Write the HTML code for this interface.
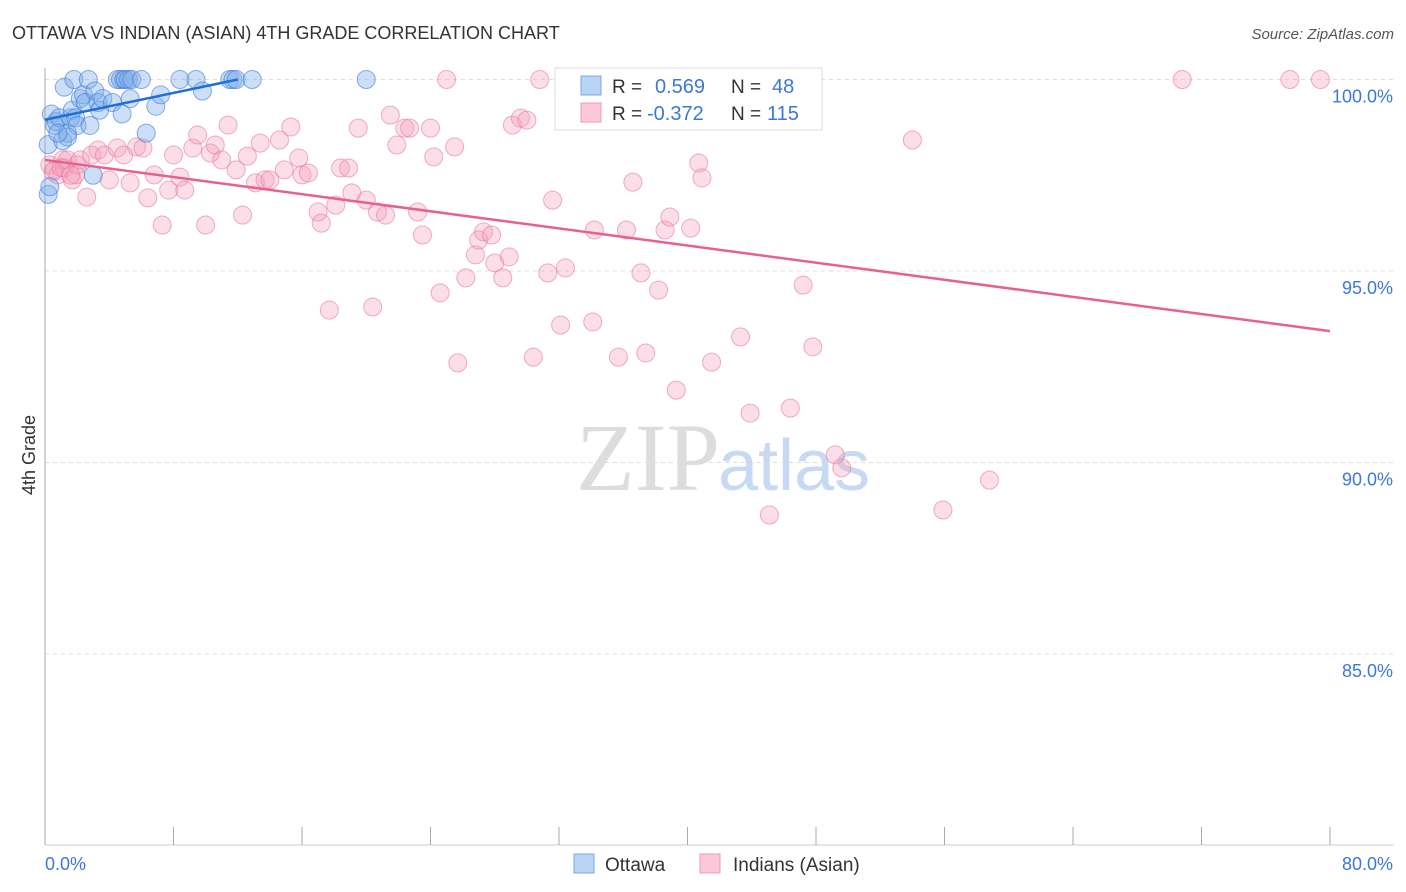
<!DOCTYPE html>
<html><head><meta charset="utf-8"><style>
body{margin:0;background:#fff;font-family:"Liberation Sans",sans-serif}
svg{display:block}
</style></head><body>
<svg width="1406" height="892">
<text x="12" y="39" font-size="18" fill="#333">OTTAWA VS INDIAN (ASIAN) 4TH GRADE CORRELATION CHART</text>
<text x="1394" y="39" font-size="15" fill="#555" font-style="italic" text-anchor="end">Source: ZipAtlas.com</text>
<text x="35" y="455" font-size="18" fill="#333" transform="rotate(-90 35 455)" text-anchor="middle">4th Grade</text>
<g id="grid"></g><g id="axes"></g>
<text x="720" y="490" font-size="96" fill="#ddd" text-anchor="end" font-family="Liberation Serif">ZIP</text>
<text x="718" y="490" font-size="72" fill="#c8daf3">atlas</text>
<g id="pink"></g><g id="blue"></g><g id="lines"></g>
<g>
<rect x="555" y="68" width="267" height="62" fill="#fff" stroke="#ddd"/>
<rect x="581" y="76" width="20" height="19" fill="#b9d4f5" stroke="#7aa8e6"/>
<rect x="581" y="103" width="20" height="19" fill="#fbc8d8" stroke="#ef9bb6"/>
<text x="612" y="93" font-size="19" fill="#333">R =</text><text x="655" y="93" font-size="20" fill="#3c78d8">0.569</text>
<text x="731" y="93" font-size="19" fill="#333">N =</text><text x="772" y="93" font-size="20" fill="#3c78d8">48</text>
<text x="612" y="120" font-size="19" fill="#333">R =</text><text x="647" y="120" font-size="20" fill="#3c78d8">-0.372</text>
<text x="731" y="120" font-size="19" fill="#333">N =</text><text x="767" y="120" font-size="20" fill="#3c78d8">115</text>
</g>
<g>
<rect x="574" y="854" width="20" height="19" fill="#b9d4f5" stroke="#7aa8e6"/>
<text x="605" y="871" font-size="19" fill="#333">Ottawa</text>
<rect x="700" y="854" width="20" height="19" fill="#fbc8d8" stroke="#ef9bb6"/>
<text x="733" y="871" font-size="19" fill="#333">Indians (Asian)</text>
</g>
</svg>
<script>
const xTicks=[0,8,16,24,32,40,48,56,64,72,80];
const yTicks=[100,95,90,85];
const yTickLabels=["100.0%","95.0%","90.0%","85.0%"];
const blueX=[0.2,0.2,0.4,0.6,0.7,0.9,1.1,1.2,1.4,1.6,1.7,1.8,1.9,2.0,2.2,2.4,2.5,2.7,2.8,3.0,3.1,3.3,3.4,3.6,4.2,4.5,4.7,4.9,5.0,5.2,5.3,5.4,6.0,6.3,6.9,7.2,8.4,9.4,9.8,11.5,11.7,11.9,12.9,20.0,4.8,1.4,0.3,0.8];
const blueY=[97.0,98.3,99.1,98.8,98.9,99.0,98.4,99.8,98.6,99.0,99.2,100,99.0,98.8,99.5,99.6,99.4,100,98.8,97.5,99.7,99.4,99.2,99.5,99.4,100,100,100,100,100,99.5,100,100,98.6,99.3,99.6,100,100,99.7,100,100,100,100,100,99.1,98.5,97.2,98.6];
const pinkX=[0.3,0.6,0.8,1.1,1.2,1.4,1.7,1.9,2.0,2.2,2.6,2.9,3.3,3.7,4.0,4.5,4.9,5.3,5.7,6.1,6.4,6.8,7.3,7.7,8.0,8.4,8.7,9.2,9.5,10.0,10.3,10.6,11.0,11.4,11.9,12.3,12.6,13.1,13.4,13.7,14.0,14.6,14.9,15.3,15.8,16.0,16.4,17.0,17.2,17.7,18.1,18.4,18.9,19.1,19.5,20.0,20.4,20.7,21.2,21.5,21.9,22.4,22.7,23.2,23.5,24.0,24.2,24.6,25.0,25.5,25.7,26.2,26.8,27.0,27.3,27.8,28.0,28.5,28.9,29.1,29.6,30.0,30.4,30.8,31.3,31.6,32.1,32.4,34.1,34.2,35.7,36.2,36.6,37.1,37.4,38.2,38.6,38.9,39.3,40.2,40.7,40.9,41.5,43.3,43.9,46.4,46.8,47.2,47.8,49.2,49.6,45.1,54.0,55.9,58.8,70.8,77.5,79.4,0.5,1.0,1.6];
const pinkY=[97.77,97.64,97.51,97.9,97.69,97.9,97.38,97.51,97.77,97.9,96.93,98.03,98.16,98.03,97.38,98.21,98.03,97.3,98.24,98.21,96.91,97.51,96.2,97.11,98.03,97.45,97.11,98.21,98.55,96.2,98.08,98.29,97.9,98.81,97.64,96.46,98.0,97.3,98.34,97.38,97.38,98.42,97.64,98.76,97.95,97.51,97.56,96.54,96.25,93.98,96.72,97.69,97.69,97.04,98.73,96.85,94.06,96.54,96.46,99.07,98.29,98.73,98.73,96.54,95.94,98.73,97.98,94.43,100,98.24,92.6,94.82,95.42,95.81,96.02,95.94,95.21,94.82,95.37,98.81,98.99,98.94,92.75,100,94.95,96.85,93.59,95.08,93.67,96.07,92.75,96.07,97.32,94.95,92.86,94.5,96.07,96.41,91.89,96.12,97.82,97.43,92.62,93.28,91.29,91.42,100,94.63,93.02,90.2,89.86,88.63,98.42,88.76,89.54,100,100,100,97.6,97.7,97.5];
const blueTrend=[[0,98.95],[12,100]];
const pinkTrend=[[0,97.9],[80,93.43]];
const NS="http://www.w3.org/2000/svg";
const sx=v=>45+v*(1285/80);
const sy=v=>79.5+(100-v)*38.3;
function mk(tag,attrs,parent){const e=document.createElementNS(NS,tag);for(const k in attrs)e.setAttribute(k,attrs[k]);document.getElementById(parent).appendChild(e);return e;}
yTicks.forEach((t,i)=>{
 const l=mk('line',{x1:45,x2:1394,y1:sy(t),y2:sy(t),stroke:'#ddd','stroke-dasharray':'4,4'},'grid');
 
 
 const tx=mk('text',{x:1393,y:sy(t)+23,'text-anchor':'end','font-size':18,fill:'#3c78d8'},'grid');
 tx.textContent=yTickLabels[i];
 
 
});
const ax=mk('line',{x1:45,x2:45,y1:68,y2:845,stroke:'#aaa'},'axes');


const bx=mk('line',{x1:45,x2:1394,y1:845,y2:845,stroke:'#ccc'},'axes');


xTicks.forEach(t=>{
 const l=mk('line',{x1:sx(t),x2:sx(t),y1:827,y2:845,stroke:'#aaa'},'axes');
 
 
});
const xl0=mk('text',{x:45,y:870,'font-size':18,fill:'#3c78d8'},'axes');xl0.textContent='0.0%';


const xl1=mk('text',{x:1393,y:870,'font-size':18,fill:'#3c78d8','text-anchor':'end'},'axes');xl1.textContent='80.0%';


pinkX.forEach((x,i)=>{
 const c=mk('circle',{cx:sx(x),cy:sy(pinkY[i]),r:9,fill:'rgba(244,160,188,0.35)',stroke:'rgba(232,120,158,0.6)','stroke-width':1},'pink');
 
 
});
blueX.forEach((x,i)=>{
 const c=mk('circle',{cx:sx(x),cy:sy(blueY[i]),r:9,fill:'rgba(128,176,235,0.4)',stroke:'rgba(60,120,216,0.6)','stroke-width':1},'blue');
 
 
});
const bl=mk('line',{x1:sx(blueTrend[0][0]),y1:sy(blueTrend[0][1]),x2:sx(blueTrend[1][0]),y2:sy(blueTrend[1][1]),stroke:'#1f6fd6','stroke-width':2.5},'lines');


const pl=mk('line',{x1:sx(pinkTrend[0][0]),y1:sy(pinkTrend[0][1]),x2:sx(pinkTrend[1][0]),y2:sy(pinkTrend[1][1]),stroke:'#e8608f','stroke-width':2.5},'lines');


</script>
</body></html>
